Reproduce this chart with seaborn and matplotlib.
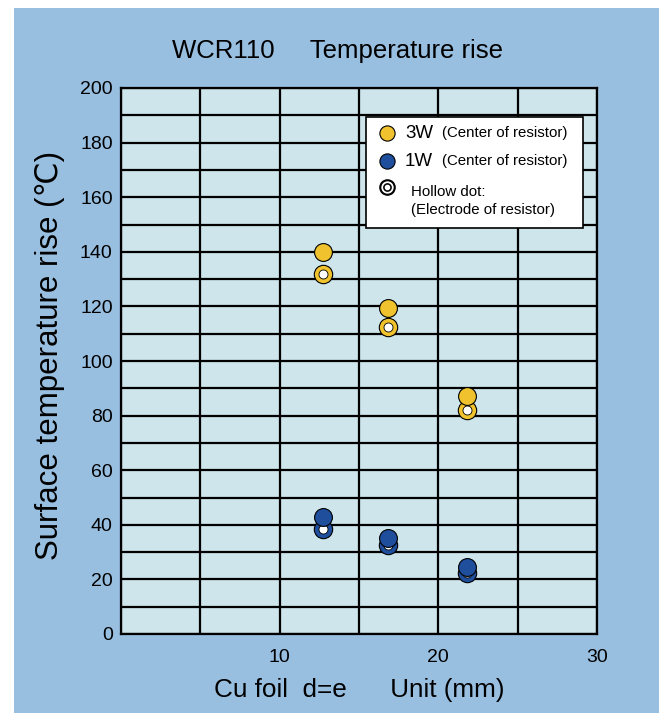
import pandas as pd
import seaborn as sns
import matplotlib.pyplot as plt
from matplotlib.patches import Rectangle

# data
foil_width = [12.7, 16.8, 21.8]
center_3w = [140, 119.5, 87]
electrode_3w = [132, 112.5, 82]
center_1w = [43, 35, 24.5]
electrode_1w = [38.5, 32.5, 22.5]

x_ticks = [0, 5, 10, 15, 20, 25, 30]
x_labels = ["", "", "10", "", "20", "", "30"]
y_ticks = list(range(0, 201, 10))
y_labels = [str(v) if v % 20 == 0 else "" for v in y_ticks]

yellow = "#F0C22E"
blue = "#1F4E9C"
bg_blue = "#98BEE0"
face = "#CDE5EB"

sns.set_style("white")
plt.rcParams["font.family"] = ["Liberation Sans", "DejaVu Sans"]
plt.rcParams["text.color"] = "black"
plt.rcParams["xtick.color"] = "black"
plt.rcParams["ytick.color"] = "black"

df = pd.DataFrame({
    "x": foil_width * 4,
    "y": center_3w + electrode_3w + center_1w + electrode_1w,
    "power": ["3W"] * 6 + ["1W"] * 6,
    "kind": (["center"] * 3 + ["electrode"] * 3) * 2,
})

fig = plt.figure(figsize=(6.59, 7.13), dpi=100, facecolor="white")
fig.patches.append(Rectangle((14 / 659, 0), 1, 1 - 8 / 713, transform=fig.transFigure,
                             facecolor=bg_blue, edgecolor="none", zorder=-10))
ax = fig.add_axes([121 / 659, 1 - 634 / 713, 476 / 659, 546 / 713])
ax.set_facecolor(face)

# hollow dots first, filled dots on top
for power, col in [("3W", yellow), ("1W", blue)]:
    sub = df[(df.power == power) & (df.kind == "electrode")]
    sns.scatterplot(data=sub, x="x", y="y", ax=ax, s=175, color=col,
                    edgecolor="black", linewidth=0.8, zorder=5, legend=False)
    sns.scatterplot(data=sub, x="x", y="y", ax=ax, s=42, color="white",
                    edgecolor="black", linewidth=0.6, zorder=6, legend=False)
for power, col in [("3W", yellow), ("1W", blue)]:
    sub = df[(df.power == power) & (df.kind == "center")]
    sns.scatterplot(data=sub, x="x", y="y", ax=ax, s=165, color=col,
                    edgecolor="black", linewidth=0.8, zorder=7, legend=False)

ax.set_xlim(0, 30)
ax.set_ylim(0, 200)
ax.set_xticks(x_ticks)
ax.set_xticklabels(x_labels)
ax.set_yticks(y_ticks)
ax.set_yticklabels(y_labels)
ax.tick_params(axis="both", length=0, labelsize=14, labelcolor="black")
ax.tick_params(axis="x", pad=11)
ax.tick_params(axis="y", pad=6)
ax.grid(True, color="black", linewidth=1.6)
ax.set_axisbelow(True)
for sp in ax.spines.values():
    sp.set_color("black")
    sp.set_linewidth(1.6)
ax.set_xlabel("")
ax.set_ylabel("")

# legend box drawn by hand (mixed font sizes)
def ax_frac(px, py):
    return ((px - 121) / 476, (634 - py) / 546)

x0, y0 = ax_frac(366, 228)
x1, y1 = ax_frac(583, 117)
ax.add_patch(Rectangle((x0, y0), x1 - x0, y1 - y0, transform=ax.transAxes,
                       facecolor="white", edgecolor="black", linewidth=1.2, zorder=10))
for py, col in [(133, yellow), (161, blue)]:
    mx, my = ax_frac(387, py)
    ax.scatter([mx], [my], s=120, color=col, edgecolor="black", linewidth=0.8,
               transform=ax.transAxes, zorder=11, clip_on=False)
mx, my = ax_frac(387, 187)
ax.scatter([mx], [my], s=120, color="black", transform=ax.transAxes, zorder=11)
ax.scatter([mx], [my], s=62, color="white", transform=ax.transAxes, zorder=12)
ax.scatter([mx], [my], s=28, color="black", transform=ax.transAxes, zorder=13)
ax.scatter([mx], [my], s=9, color="white", transform=ax.transAxes, zorder=14)

for py, big in [(134, "3W"), (162, "1W")]:
    tx, ty = ax_frac(405, py)
    ax.text(tx, ty, big, transform=ax.transAxes, fontsize=13.5, va="center", zorder=12)
    tx, ty = ax_frac(442, py - 1)
    ax.text(tx, ty, "(Center of resistor)", transform=ax.transAxes, fontsize=10.8,
            va="center", zorder=12)
tx, ty = ax_frac(411, 192)
ax.text(tx, ty, "Hollow dot:", transform=ax.transAxes, fontsize=10.8, va="center", zorder=12)
tx, ty = ax_frac(411, 210)
ax.text(tx, ty, "(Electrode of resistor)", transform=ax.transAxes, fontsize=10.8,
        va="center", zorder=12)

fig.text(338 / 659, 1 - 51 / 713, "WCR110     Temperature rise", ha="center",
         va="center", fontsize=18.5)
fig.text(50 / 659, 1 - 355 / 713, "Surface temperature rise (℃)", ha="center",
         va="center", rotation=90, fontsize=22.5)
fig.text(359 / 659, 1 - 690 / 713, "Cu foil  d=e      Unit (mm)", ha="center",
         va="center", fontsize=18.8)

fig.savefig("out.png", dpi=100, facecolor=fig.get_facecolor())
